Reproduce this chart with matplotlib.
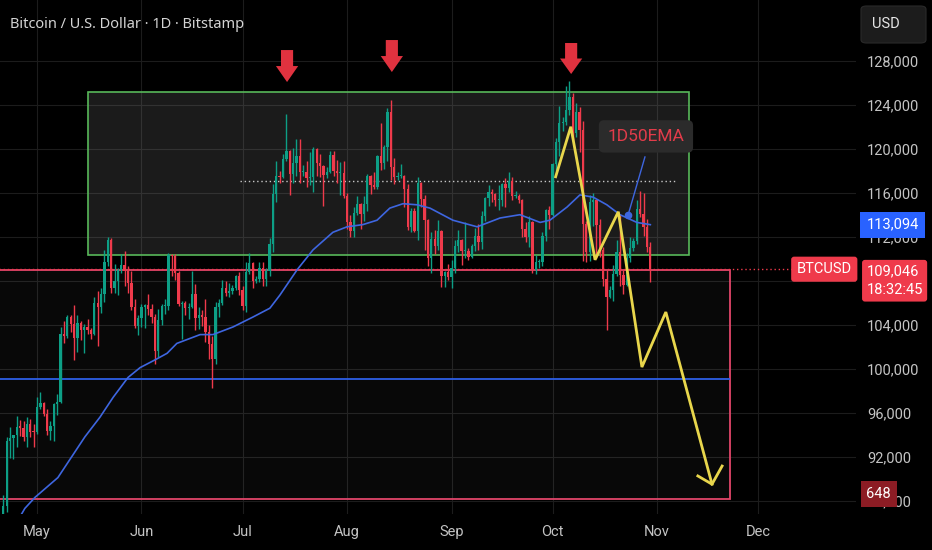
import numpy as np
import pandas as pd
import matplotlib
matplotlib.use('Agg')
import matplotlib.pyplot as plt
import matplotlib.transforms as mtransforms
from matplotlib.patches import Rectangle, Polygon, FancyBboxPatch

# ---- Daily candles, BTC/USD Bitstamp, prices in thousands of USD (Apr 21 .. Oct 30) ----
first_open = 85.2

closes_apr = [87.5, 93.45, 93.7, 93.95, 94.7, 94.65, 93.75, 94.95, 94.25, 94.2]
highs_apr  = [88.5, 93.8, 94.7, 94.0, 95.7, 95.3, 95.2, 95.6, 95.4, 95.0]
lows_apr   = [85.1, 87.0, 91.9, 91.8, 92.9, 93.9, 93.4, 92.9, 93.8, 92.9]

closes_may = [96.5, 96.9, 95.9, 94.3, 94.75, 96.8, 97.0, 103.2, 102.95, 104.7, 104.1, 102.8, 104.2, 103.5, 103.8, 103.5,
              103.2, 106.0, 105.6, 106.8, 109.7, 111.7, 107.3, 108.0, 109.0, 109.4, 108.9, 107.8, 105.6, 103.9, 104.6]
highs_may  = [97.4, 97.9, 97.0, 96.3, 95.2, 96.9, 97.7, 103.8, 104.3, 104.9, 104.9, 105.8, 104.9, 104.3, 104.1, 104.5,
              103.7, 106.5, 107.1, 107.3, 110.8, 112.0, 111.9, 109.5, 109.2, 110.4, 110.7, 109.3, 108.9, 106.3, 104.9]
lows_may   = [94.1, 96.3, 95.7, 94.0, 93.5, 93.4, 95.8, 96.9, 102.3, 102.8, 103.3, 100.8, 101.5, 102.6, 101.4, 103.2,
              102.7, 103.1, 102.1, 105.1, 106.1, 109.3, 106.9, 106.9, 106.7, 108.7, 107.5, 106.9, 105.3, 103.7, 103.1]

closes_jun = [105.6, 105.8, 105.4, 104.7, 101.6, 104.4, 105.7, 105.7, 110.3, 110.25, 108.7, 105.9, 106.0, 105.5, 105.6,
              106.8, 104.6, 104.9, 104.7, 103.3, 102.2, 100.9, 105.6, 106.0, 107.3, 106.9, 107.1, 107.3, 108.4, 107.2]
highs_jun  = [105.9, 105.9, 106.8, 105.9, 105.0, 105.4, 105.9, 106.3, 110.5, 110.4, 110.4, 108.9, 106.2, 106.2, 106.0,
              108.9, 107.7, 105.6, 105.3, 106.3, 104.0, 103.0, 106.1, 106.3, 108.1, 108.0, 107.8, 107.6, 108.5, 108.8]
lows_jun   = [103.8, 103.7, 104.9, 104.2, 100.4, 101.1, 104.0, 105.0, 105.3, 108.4, 108.1, 105.7, 102.7, 104.9, 104.5,
              105.5, 103.5, 103.6, 103.9, 102.4, 100.9, 98.2, 100.4, 104.7, 105.8, 106.6, 106.5, 106.8, 107.2, 106.7]

closes_jul = [105.7, 108.8, 109.6, 108.0, 108.2, 109.2, 108.2, 108.9, 111.3, 115.9, 117.5, 117.4, 119.1, 119.8, 117.7, 118.7,
              119.3, 117.9, 117.9, 117.3, 117.4, 120.0, 118.7, 118.4, 117.6, 117.9, 119.4, 118.0, 117.8, 117.8, 115.7]
highs_jul  = [107.5, 109.7, 110.5, 109.7, 108.4, 109.7, 109.7, 109.2, 111.9, 116.8, 118.9, 118.0, 119.5, 123.2, 119.9, 120.1,
              120.9, 120.9, 118.5, 118.9, 119.7, 120.2, 120.1, 119.5, 118.5, 118.3, 119.8, 119.8, 119.0, 118.8, 118.9]
lows_jul   = [105.3, 105.2, 108.6, 107.3, 107.8, 107.9, 107.5, 107.5, 108.4, 110.6, 115.2, 116.9, 117.3, 118.9, 115.8, 116.9,
              117.5, 116.9, 117.5, 116.5, 116.7, 116.1, 117.5, 117.4, 114.8, 117.3, 117.8, 117.5, 116.9, 115.8, 115.5]

closes_aug = [113.3, 112.5, 114.2, 115.0, 114.1, 115.0, 117.5, 116.7, 116.5, 119.3, 118.7, 120.2, 123.3, 118.3, 117.4, 117.5,
              117.5, 116.3, 112.9, 114.3, 112.5, 116.9, 115.4, 113.5, 110.1, 111.8, 111.2, 112.5, 108.4, 108.8, 108.3]
highs_aug  = [116.0, 114.0, 114.7, 115.7, 115.1, 115.7, 117.7, 117.6, 117.9, 119.4, 122.3, 120.3, 123.7, 124.4, 119.2, 117.9,
              118.6, 117.6, 116.8, 114.6, 114.6, 117.4, 117.0, 115.8, 113.6, 112.4, 112.6, 113.5, 112.6, 108.9, 109.5]
lows_aug   = [112.7, 112.0, 112.0, 114.0, 112.7, 113.4, 114.3, 115.9, 116.3, 116.3, 118.1, 118.2, 118.9, 117.2, 116.8, 117.2,
              117.3, 114.7, 112.6, 112.4, 112.4, 111.7, 114.7, 110.8, 109.3, 108.7, 110.4, 110.8, 107.4, 107.4, 108.1]

closes_sep = [109.2, 111.2, 111.7, 110.7, 110.7, 110.2, 111.2, 112.1, 111.5, 113.9, 115.5, 116.1, 115.9, 115.3, 115.3,
              116.8, 116.4, 117.1, 115.7, 115.7, 115.3, 112.7, 112.0, 113.3, 109.0, 109.7, 109.7, 112.1, 114.4, 114.0]
highs_sep  = [109.9, 111.7, 112.6, 111.8, 113.3, 111.0, 111.3, 112.8, 113.2, 114.3, 115.6, 116.7, 116.3, 116.0, 116.7,
              116.9, 117.3, 117.9, 117.4, 116.2, 115.9, 115.4, 113.3, 113.9, 113.4, 110.3, 110.0, 112.4, 114.5, 114.8]
lows_sep   = [107.3, 108.7, 110.6, 109.4, 110.1, 109.9, 110.1, 110.7, 110.8, 110.9, 113.4, 114.8, 115.2, 114.8, 114.4,
              114.8, 114.7, 116.1, 115.3, 115.5, 115.1, 112.0, 111.5, 111.1, 108.7, 108.6, 109.2, 109.3, 111.6, 112.7]

closes_oct = [118.6, 120.6, 122.3, 122.4, 123.5, 124.7, 121.4, 123.3, 121.7, 113.2, 110.6, 115.2, 115.3, 113.1, 110.8,
              108.2, 106.5, 107.2, 108.6, 110.6, 108.5, 107.6, 110.1, 111.0, 111.6, 114.5, 114.1, 112.9, 111.1, 109.046]
highs_oct  = [118.7, 121.0, 123.9, 122.9, 125.7, 126.2, 125.1, 124.2, 123.8, 122.5, 113.4, 115.8, 116.0, 115.4, 113.6,
              111.1, 109.0, 107.5, 109.4, 111.7, 114.0, 109.0, 110.5, 112.0, 111.9, 115.3, 116.2, 116.0, 113.6, 111.5]
lows_oct   = [113.9, 118.0, 119.3, 121.6, 122.2, 123.1, 120.7, 121.1, 119.7, 109.8, 109.7, 109.8, 113.0, 110.1, 110.2,
              107.5, 103.5, 106.4, 106.2, 108.4, 107.5, 106.8, 107.5, 109.7, 110.7, 111.3, 113.8, 112.1, 110.6, 107.9]

# ---- 50 day EMA (days from May 1, price in k) ----
ema_days = [-5.5, -3.6, -0.6, 6.2, 14.2, 18.7, 22.6, 27.0, 30.6, 35.0, 38.6, 41.5, 48.4, 52.2, 58.2, 64.1, 69.1, 72.1,
            77.2, 81.9, 87.8, 92.0, 96.7, 100.9, 104.7, 108.6, 112.8, 116.6, 123.4, 130.6, 137.4, 143.3, 149.3, 152.2,
            157.3, 161.1, 165.0, 169.1, 173.0, 178.0, 182.0]
ema_vals = [86.3, 87.3, 88.3, 90.1, 93.8, 95.6, 97.4, 99.2, 100.1, 100.8, 101.4, 102.3, 103.1, 103.1, 103.8, 104.7, 105.5,
            106.7, 109.0, 110.8, 112.4, 112.9, 113.1, 113.5, 114.6, 115.0, 114.9, 114.6, 113.5, 112.9, 113.7, 114.0,
            113.3, 113.5, 114.7, 115.8, 115.6, 114.9, 114.0, 113.3, 113.094]

# ---- Drawings ----
range_box_days   = [15.0, 193.5]
range_box_prices = [110.33, 125.16]
support_box_days   = [-12.0, 205.6]
support_box_prices = [88.15, 108.95]
mid_line_days  = [60.2, 189.6]
mid_line_price = 117.09
blue_level     = 99.06
blue_level_end = 205.6

arrow_days = [74.2, 105.3, 158.5]
arrow_tops = [128.97, 129.88, 129.61]
arrow_tips = [126.06, 126.97, 126.79]

path_days   = [153.9, 158.4, 165.6, 172.5, 179.5, 186.6, 200.3]
path_prices = [117.45, 122.0, 109.9, 114.27, 100.15, 105.15, 89.5]
head_days   = [196.1, 200.3, 203.3]
head_prices = [90.25, 89.5, 91.15]

ema_label_pos  = (180.7, 121.12)
ema_leader_day = [180.4, 175.4]
ema_leader_val = [119.25, 113.97]

last_price = 109.046
ema_last   = 113.094
volume_last = 88.6

month_days   = [0, 31, 61, 92, 123, 153, 184, 214]
month_labels = ['May', 'Jun', 'Jul', 'Aug', 'Sep', 'Oct', 'Nov', 'Dec']
price_ticks  = [88, 92, 96, 100, 104, 112, 116, 120, 124, 128]   # 108,000 sits under the price tag
grid_prices  = [88, 92, 96, 100, 104, 108, 112, 116, 120, 124, 128]

# ---- Assemble candles ----
closes = np.array(closes_apr + closes_may + closes_jun + closes_jul + closes_aug + closes_sep + closes_oct)
highs  = np.array(highs_apr + highs_may + highs_jun + highs_jul + highs_aug + highs_sep + highs_oct)
lows   = np.array(lows_apr + lows_may + lows_jun + lows_jul + lows_aug + lows_sep + lows_oct)
opens  = np.concatenate([[first_open], closes[:-1]])
dates  = pd.date_range('2025-04-21', '2025-10-30', freq='D')
days   = (dates - pd.Timestamp('2025-05-01')).days.values

GREEN = '#0d9f86'
RED   = '#ef3a4b'
BG    = '#000000'

fig = plt.figure(figsize=(9.32, 5.5), dpi=100, facecolor=BG)
ax = fig.add_axes([0, 36 / 550, 856 / 932, 514 / 550], facecolor=BG)
ax.set_xlim(-10.98, 243.03)
ax.set_ylim(86.79, 133.52)

for s in ax.spines.values():
    s.set_visible(False)

ax.set_xticks(month_days)
ax.set_xticklabels(month_labels)
ax.set_yticks(price_ticks)
ax.set_yticklabels([f'{v * 1000:,.0f}' for v in price_ticks])
ax.yaxis.tick_right()
ax.tick_params(axis='x', length=0, pad=8, labelcolor='#c4c4c4', labelsize=10.5)
ax.tick_params(axis='y', length=0, pad=8, labelcolor='#c4c4c4', labelsize=10.5)
for lab in ax.get_xticklabels() + ax.get_yticklabels():
    lab.set_family('Roboto')
ax.grid(True, axis='x', color='#1c1c1c', linewidth=0.8)
ax.hlines(grid_prices, -12, 250, color='#1c1c1c', linewidth=0.8, zorder=0.5)
ax.set_axisbelow(True)

# support zone (pink) and range box (green)
ax.add_patch(Rectangle((support_box_days[0], support_box_prices[0]),
                       support_box_days[1] - support_box_days[0], support_box_prices[1] - support_box_prices[0],
                       facecolor=(1, 1, 1, 0.035), edgecolor='#e2466a', linewidth=1.3, zorder=1))
ax.add_patch(Rectangle((range_box_days[0], range_box_prices[0]),
                       range_box_days[1] - range_box_days[0], range_box_prices[1] - range_box_prices[0],
                       facecolor=(0.55, 0.55, 0.55, 0.2), edgecolor='#58b85a', linewidth=1.2, zorder=1))

ax.hlines(blue_level, -12, blue_level_end, color='#2d5fe6', linewidth=1.3, zorder=2)
ax.hlines(mid_line_price, mid_line_days[0], mid_line_days[1], color='#c8c8c8', linewidth=1.0,
          linestyles=(0, (1, 2)), zorder=2)
ax.hlines(last_price, -12, 250, color='#ef3a4b', linewidth=1.0, linestyles=(0, (1, 2)), zorder=2)

# candles
up = closes >= opens
colors = np.where(up, GREEN, RED)
ax.vlines(days, lows, highs, colors=colors, linewidth=1.0, zorder=3)
body = np.maximum(np.abs(closes - opens), 0.1)
ax.bar(days, body, bottom=np.minimum(opens, closes), width=0.68, color=colors, linewidth=0, zorder=3)

# EMA
ax.plot(ema_days, ema_vals, color='#3e66e0', linewidth=1.2, zorder=4)

# yellow projection
ax.plot(path_days, path_prices, color='#e8d64c', linewidth=2.0, solid_joinstyle='miter', zorder=5)
ax.plot(head_days, head_prices, color='#e8d64c', linewidth=2.0, zorder=5)

# red markers above the tops
for d, top, tip in zip(arrow_days, arrow_tops, arrow_tips):
    neck = tip + (top - tip) * 0.5
    poly = [(d - 1.8, top), (d + 1.8, top), (d + 1.8, neck), (d + 3.3, neck),
            (d, tip), (d - 3.3, neck), (d - 1.8, neck)]
    ax.add_patch(Polygon(poly, closed=True, facecolor='#e0323f', edgecolor='none', zorder=6))

# EMA callout
ax.plot(ema_leader_day, ema_leader_val, color='#3e66e0', linewidth=1.0, zorder=6)
ax.plot(ema_leader_day[-1], ema_leader_val[-1], 'o', color='#3e66e0', markersize=4.5, zorder=6)
ax.text(ema_label_pos[0], ema_label_pos[1], '1D50EMA', color='#e23c4a', fontsize=12.5, family='Roboto',
        ha='center', va='center', zorder=7,
        bbox=dict(boxstyle='round,pad=0.5,rounding_size=0.3', facecolor='#2b2b2b', edgecolor='none'))

# price scale tags
blend = mtransforms.blended_transform_factory(ax.transAxes, ax.transData)
tag_kw = dict(xycoords=blend, textcoords='offset points', va='center', family='Roboto',
              fontsize=10.5, color='white', zorder=10, annotation_clip=False)
ax.annotate('113,094', xy=(1, ema_last), xytext=(7.5, 0), ha='left',
            bbox=dict(boxstyle='square,pad=0.42', facecolor='#2962ff', edgecolor='none'), **tag_kw)
ax.annotate('109,046\n18:32:45', xy=(1, last_price), xytext=(7.5, -8.3), ha='left', linespacing=1.45,
            bbox=dict(boxstyle='round,pad=0.3,rounding_size=0.2', facecolor='#ef3a4b', edgecolor='none'), **tag_kw)
ax.annotate('BTCUSD', xy=(1, last_price), xytext=(-3, 0), ha='right',
            bbox=dict(boxstyle='round,pad=0.38,rounding_size=0.2', facecolor='#ef3a4b', edgecolor='none'), **tag_kw)
ax.annotate('648', xy=(1, volume_last), xytext=(7.5, 0), ha='left',
            bbox=dict(boxstyle='square,pad=0.4', facecolor='#8c1c24', edgecolor='none'), **tag_kw)

# header
fig.text(10 / 932, 1 - 24 / 550, 'Bitcoin / U.S. Dollar \u00b7 1D \u00b7 Bitstamp', color='#d4d4d4',
         fontsize=10.5, family='Noto Sans', va='center', ha='left')
fig.add_artist(FancyBboxPatch((861 / 932, 1 - 43 / 550), 65 / 932, 37 / 550, transform=fig.transFigure,
                              boxstyle='round,pad=0,rounding_size=0.006', facecolor='#1c1c1c',
                              edgecolor='#2a2a2a', linewidth=0.8))
fig.text(872 / 932, 1 - 24.5 / 550, 'USD', color='#e6e6e6', fontsize=10.5, family='Roboto', va='center', ha='left')

fig.savefig('out.png', dpi=100, facecolor=BG)
